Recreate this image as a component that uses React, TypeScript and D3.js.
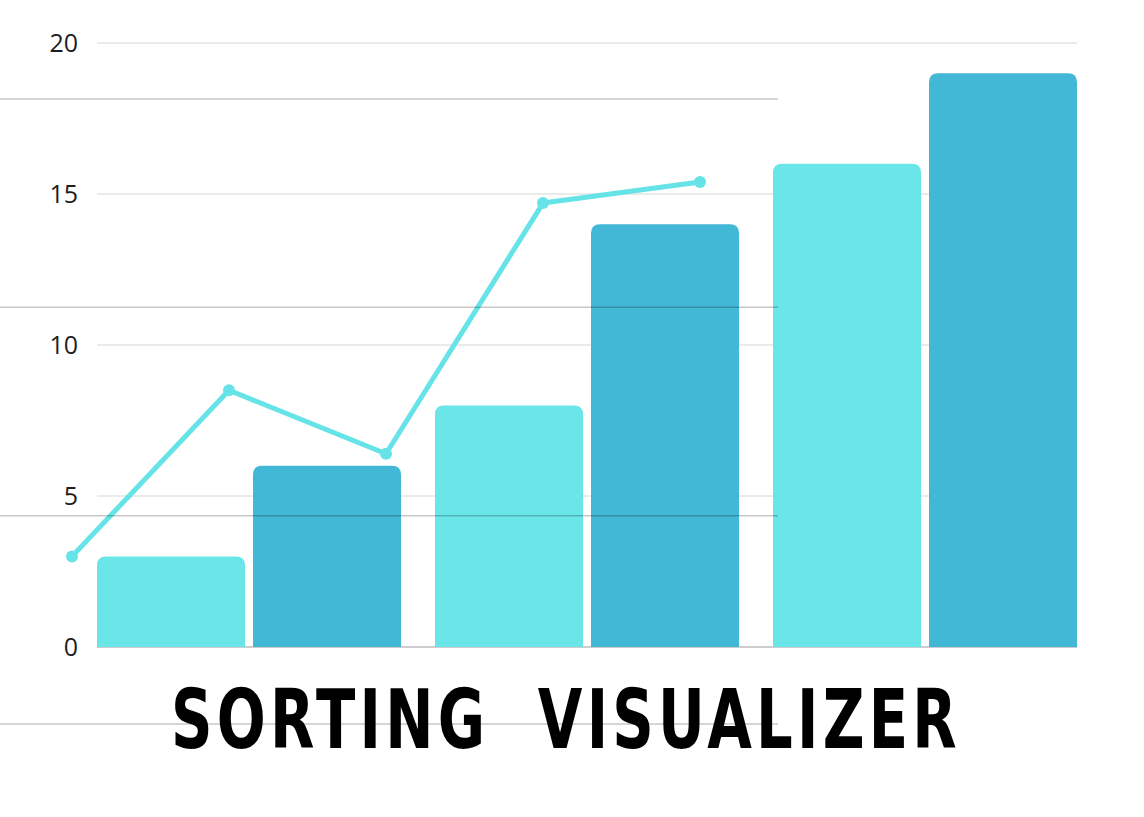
import React, { useRef, useEffect } from "react"
import * as d3 from "d3"

const groups = ["A", "B", "C"]
const seriesKeys = ["light", "dark"]
const barValues = [
  [3, 6],
  [8, 14],
  [16, 19],
]
const lineLabels = ["p1", "p2", "p3", "p4", "p5"]
const lineValues = [3, 8.5, 6.4, 14.7, 15.4]
const yTicks = [0, 5, 10, 15, 20]
// stray guide lines from the layout behind the chart (rows of the overlay grid)
const overlayRows = [0, 1, 2, 3]
const title = "SORTING  VISUALIZER"

const W = 1144
const H = 817
const COLORS: Record<string, string> = { light: "#6ae5e8", dark: "#42b7d6" }

function roundTopRect(x: number, y: number, w: number, h: number, r: number) {
  const rr = Math.min(r, h, w / 2)
  return `M${x},${y + h}V${y + rr}Q${x},${y} ${x + rr},${y}H${x + w - rr}Q${x + w},${y} ${x + w},${y + rr}V${y + h}Z`
}

export default function App() {
  const svgRef = useRef<SVGSVGElement>(null)

  useEffect(() => {
    const svg = d3.select(svgRef.current)
    svg.selectAll("*").remove()

    const yScale = d3.scaleLinear().domain([0, 20]).range([647, 43])
    const x0 = d3.scaleBand().domain(groups).range([97, 1077]).paddingInner(0.1006).paddingOuter(0)
    const x1 = d3.scaleBand().domain(seriesKeys).range([0, x0.bandwidth()]).paddingInner(0.0513)
    const xLine = d3.scalePoint().domain(lineLabels).range([72, 700])
    const yOverlay = d3.scaleLinear().domain([0, 3]).range([99, 724])

    // Grid lines
    svg.append("g")
      .selectAll("line")
      .data(yTicks)
      .join("line")
      .attr("x1", 97).attr("x2", 1077)
      .attr("y1", (d) => yScale(d)).attr("y2", (d) => yScale(d))
      .attr("stroke", (d) => (d === 0 ? "#bdbdbd" : "#d6d6d6"))
      .attr("stroke-width", (d) => (d === 0 ? 1.5 : 1))

    // Y labels
    svg.append("g")
      .selectAll("text")
      .data(yTicks)
      .join("text")
      .attr("x", 78)
      .attr("y", (d) => yScale(d))
      .attr("dy", "0.36em")
      .attr("text-anchor", "end")
      .attr("font-family", "'Open Sans', sans-serif")
      .attr("font-size", 25)
      .attr("fill", "#1e1e1e")
      .text((d) => d)

    // Bars
    const g = svg.append("g")
    groups.forEach((grp, gi) => {
      seriesKeys.forEach((k, ki) => {
        const v = barValues[gi][ki]
        const x = (x0(grp) ?? 0) + (x1(k) ?? 0)
        const y = yScale(v)
        g.append("path")
          .attr("d", roundTopRect(x, y, x1.bandwidth(), yScale(0) - y, 9))
          .attr("fill", COLORS[k])
      })
    })

    // Line series
    const line = d3.line<number>()
      .x((_, i) => xLine(lineLabels[i]) ?? 0)
      .y((d) => yScale(d))
    svg.append("path")
      .datum(lineValues)
      .attr("d", line)
      .attr("fill", "none")
      .attr("stroke", "#66e3e7")
      .attr("stroke-width", 5)
      .attr("stroke-linejoin", "round")
    svg.append("g")
      .selectAll("circle")
      .data(lineValues)
      .join("circle")
      .attr("cx", (_, i) => xLine(lineLabels[i]) ?? 0)
      .attr("cy", (d) => yScale(d))
      .attr("r", 6)
      .attr("fill", "#66e3e7")

    // Overlay lines
    svg.append("g")
      .selectAll("line")
      .data(overlayRows)
      .join("line")
      .attr("x1", 0).attr("x2", 778)
      .attr("y1", (d) => yOverlay(d)).attr("y2", (d) => yOverlay(d))
      .attr("stroke", "rgba(0,0,0,0.22)")
      .attr("stroke-width", 1.5)

    // Title: squeeze horizontally to the reference width
    const titleG = svg.append("g")
    const titleText = titleG.append("text")
      .attr("x", 0)
      .attr("y", 0)
      .attr("text-anchor", "middle")
      .attr("font-family", "'DejaVu Sans', sans-serif")
      .attr("font-weight", 700)
      .attr("font-style", "normal")
      .attr("font-size", 82)
      .attr("letter-spacing", 6)
      .attr("fill", "#000")
      .style("white-space", "pre")
      .text(title)
    const natural = (titleText.node() as SVGTextElement).getComputedTextLength() || 1100
    const sx = 790 / natural
    titleG.attr("transform", `translate(566,748) scale(${sx},1)`)
  }, [])

  return (
    <div style={{ position: "absolute", left: 0, top: 0, width: W, height: H, background: "#fff" }}>
      <svg ref={svgRef} width={W} height={H} style={{ display: "block" }} />
    </div>
  )
}
